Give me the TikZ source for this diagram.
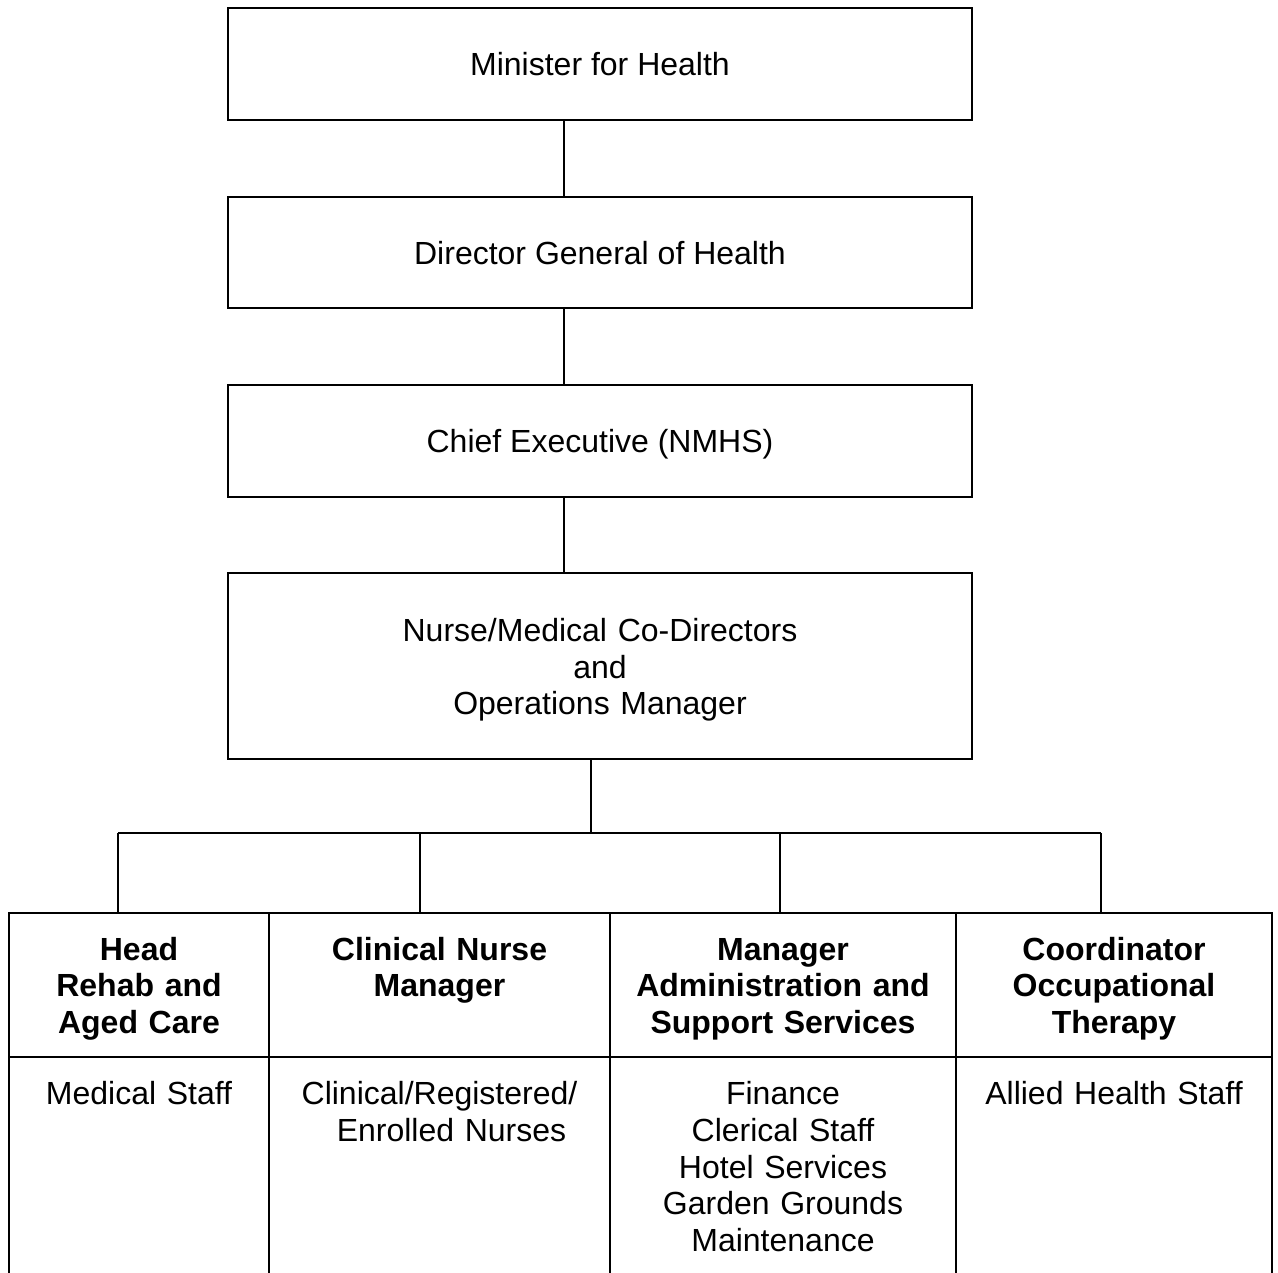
\documentclass[tikz,border=0pt]{standalone}
\usepackage{fontspec}
\setmainfont{Liberation Sans}
\begin{document}
\begin{tikzpicture}[x=1pt,y=-1pt,
  txt/.style={font=\fontsize{32}{36.8}\selectfont},
  box/.style={txt, draw, line width=2.7pt, minimum width=744pt, inner sep=0pt, outer sep=0pt, align=center},
  conn/.style={line width=2.4pt},
  rule/.style={line width=2.7pt},
  cell/.style={draw, line width=2.7pt, inner sep=0pt, outer sep=0pt, anchor=north west, align=center,
    font=\fontsize{32}{36.8}\selectfont\bfseries, text height=47pt, text depth=97pt},
  sub/.style={txt, inner sep=0pt, outer sep=0pt, anchor=north west, align=center, text height=47.5pt}]
\useasboundingbox (0,0) rectangle (1278,1273);

% top boxes
\node[box, minimum height=112pt, text height=24pt, text depth=0pt] (minister) at (600,64) {Minister for Health};
\node[box, minimum height=111pt, text height=24pt, text depth=0pt] (director) at (600,252.5) {Director General of Health};
\node[box, minimum height=112pt, text height=23pt, text depth=0pt] (chief) at (600,441) {Chief Executive (NMHS)};
\node[box, minimum height=186pt, text width=744pt, text height=31pt, text depth=80.3pt] (codir) at (600,666) {Nurse/Medical Co-Directors\\and\\Operations Manager};

% header cells
\node[cell, text width=260pt] (h1) at (9,913) {Head\\Rehab and\\Aged Care};
\node[cell, text width=341pt] (h2) at (h1.north east) {Clinical Nurse\\Manager};
\node[cell, text width=346pt] (h3) at (h2.north east) {Manager\\Administration and\\Support Services};
\node[cell, text width=316pt] (h4) at (h3.north east) {Coordinator\\Occupational\\Therapy};

% lower cells
\node[sub, text width=260pt] (b1) at (h1.south west) {Medical Staff};
\node[sub, text width=341pt] (b2) at (h2.south west) {Clinical/Registered/\\\hspace*{24pt}Enrolled Nurses};
\node[sub, text width=346pt] (b3) at (h3.south west) {Finance\\Clerical Staff\\Hotel Services\\Garden Grounds\\Maintenance};
\node[sub, text width=316pt] (b4) at (h4.south west) {Allied Health Staff};

% open-ended column rules
\coordinate (floor) at (0,1273);
\foreach \c in {h1.south west, h2.south west, h3.south west, h4.south west, h4.south east}
  \draw[rule] (\c) -- (\c |- floor);

% connectors
\coordinate (spine) at (564,0);
\draw[conn] (minister.south -| spine) -- (director.north -| spine);
\draw[conn] (director.south -| spine) -- (chief.north -| spine);
\draw[conn] (chief.south -| spine) -- (codir.north -| spine);
\coordinate (bus) at (591,833);
\coordinate (d1) at (118,833);
\coordinate (d2) at (420,833);
\coordinate (d3) at (780,833);
\coordinate (d4) at (1101,833);
\draw[conn] (codir.south -| bus) -- (bus);
\draw[conn] (d1) -- (d4);
\draw[conn] (d1) -- (d1 |- h1.north);
\draw[conn] (d2) -- (d2 |- h2.north);
\draw[conn] (d3) -- (d3 |- h3.north);
\draw[conn] (d4) -- (d4 |- h4.north);
\end{tikzpicture}
\end{document}
